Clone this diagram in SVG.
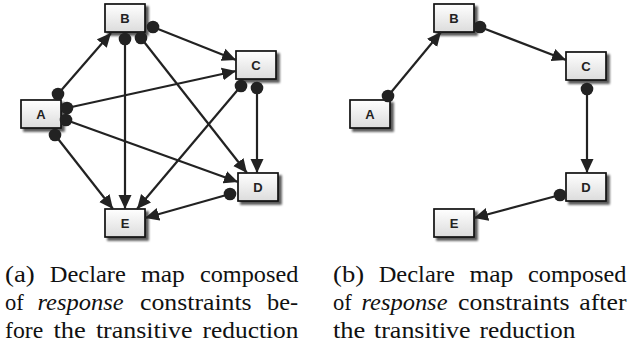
<svg xmlns="http://www.w3.org/2000/svg" width="629" height="349" viewBox="0 0 629 349">
<style>
.box{fill:url(#boxfill);stroke:#111;stroke-width:1.7;filter:url(#shadow)}
.edge{stroke:#222;stroke-width:2.2;fill:none;marker-start:url(#dot);marker-end:url(#arrow)}
</style>
<defs>
<linearGradient id="boxfill" x1="0" y1="0" x2="0" y2="1">
<stop offset="0" stop-color="#ffffff"/>
<stop offset="1" stop-color="#dcdcdc"/>
</linearGradient>
<filter id="shadow" x="-20%" y="-20%" width="150%" height="160%">
<feDropShadow dx="3" dy="3" stdDeviation="1.1" flood-color="#000" flood-opacity="0.65"/>
</filter>
<marker id="arrow" markerUnits="userSpaceOnUse" markerWidth="15" markerHeight="14" viewBox="0 0 15 14" refX="14" refY="7" orient="auto">
<path d="M0,0.5 L14,7 L0,13.5 z" fill="#222"/>
</marker>
<marker id="dot" markerUnits="userSpaceOnUse" markerWidth="14" markerHeight="14" viewBox="0 0 14 14" refX="7" refY="7">
<circle cx="7" cy="7" r="6.3" fill="#222"/>
</marker>
</defs>

<!-- (a) nodes -->
<g id="a-A"><rect class="box" x="21" y="100" width="40" height="28"/><text font-family="Liberation Sans" font-size="13" font-weight="bold" fill="#222" text-anchor="middle" x="41" y="118.5">A</text></g>
<g id="a-B"><rect class="box" x="105" y="4" width="40" height="28"/><text font-family="Liberation Sans" font-size="13" font-weight="bold" fill="#222" text-anchor="middle" x="125" y="22.5">B</text></g>
<g id="a-C"><rect class="box" x="236" y="51" width="40" height="28"/><text font-family="Liberation Sans" font-size="13" font-weight="bold" fill="#222" text-anchor="middle" x="256" y="69.5">C</text></g>
<g id="a-D"><rect class="box" x="238" y="173" width="40" height="28"/><text font-family="Liberation Sans" font-size="13" font-weight="bold" fill="#222" text-anchor="middle" x="258" y="191.5">D</text></g>
<g id="a-E"><rect class="box" x="105" y="209" width="40" height="28"/><text font-family="Liberation Sans" font-size="13" font-weight="bold" fill="#222" text-anchor="middle" x="125" y="227.5">E</text></g>

<!-- (b) nodes -->
<g id="b-A"><rect class="box" x="350" y="100" width="40" height="28"/><text font-family="Liberation Sans" font-size="13" font-weight="bold" fill="#222" text-anchor="middle" x="370" y="118.5">A</text></g>
<g id="b-B"><rect class="box" x="434" y="4" width="40" height="28"/><text font-family="Liberation Sans" font-size="13" font-weight="bold" fill="#222" text-anchor="middle" x="454" y="22.5">B</text></g>
<g id="b-C"><rect class="box" x="566" y="52" width="40" height="28"/><text font-family="Liberation Sans" font-size="13" font-weight="bold" fill="#222" text-anchor="middle" x="586" y="70.5">C</text></g>
<g id="b-D"><rect class="box" x="566" y="173" width="40" height="28"/><text font-family="Liberation Sans" font-size="13" font-weight="bold" fill="#222" text-anchor="middle" x="586" y="191.5">D</text></g>
<g id="b-E"><rect class="box" x="434" y="209" width="40" height="28"/><text font-family="Liberation Sans" font-size="13" font-weight="bold" fill="#222" text-anchor="middle" x="454" y="227.5">E</text></g>

<!-- connectors -->
<g id="connectors">
<line class="edge" x1="58" y1="94" x2="111" y2="33"/>
<line class="edge" x1="67" y1="108" x2="236" y2="71"/>
<line class="edge" x1="66" y1="120" x2="238" y2="182"/>
<line class="edge" x1="55" y1="135" x2="113" y2="209"/>
<line class="edge" x1="125" y1="39" x2="125" y2="209"/>
<line class="edge" x1="153" y1="27" x2="236" y2="60"/>
<line class="edge" x1="141" y1="38" x2="247" y2="173"/>
<line class="edge" x1="241" y1="86" x2="137" y2="209"/>
<line class="edge" x1="257" y1="88" x2="257" y2="173"/>
<line class="edge" x1="230" y1="194" x2="145" y2="218"/>

<line class="edge" x1="388" y1="96" x2="441" y2="32"/>
<line class="edge" x1="480" y1="27" x2="566" y2="60"/>
<line class="edge" x1="587" y1="89" x2="587" y2="173"/>
<line class="edge" x1="560" y1="195" x2="474" y2="218"/>
</g>

<!-- captions -->
<g id="caption-a">
<text font-family="Liberation Serif" font-size="24" fill="#111" transform="translate(5,282) scale(1.119,1)">(a)</text>
<text font-family="Liberation Serif" font-size="24" fill="#111" transform="translate(49.8,282) scale(1.02,1)">Declare</text>
<text font-family="Liberation Serif" font-size="24" fill="#111" transform="translate(140.9,282) scale(1.065,1)">map</text>
<text font-family="Liberation Serif" font-size="24" fill="#111" transform="translate(199.9,282) scale(1.012,1)">composed</text>
<text font-family="Liberation Serif" font-size="24" fill="#111" transform="translate(5,310) scale(0.94,1)">of</text>
<text font-family="Liberation Serif" font-size="24" fill="#111" font-style="italic" transform="translate(37.5,310) scale(1.02,1)">response</text>
<text font-family="Liberation Serif" font-size="24" fill="#111" transform="translate(140,310) scale(1.074,1)">constraints</text>
<text font-family="Liberation Serif" font-size="24" fill="#111" transform="translate(267,310) scale(1.015,1)">be-</text>
<text font-family="Liberation Serif" font-size="24" fill="#111" transform="translate(5,338) scale(0.99,1)">fore</text>
<text font-family="Liberation Serif" font-size="24" fill="#111" transform="translate(53.4,338) scale(1.105,1)">the</text>
<text font-family="Liberation Serif" font-size="24" fill="#111" transform="translate(95.9,338) scale(1.082,1)">transitive</text>
<text font-family="Liberation Serif" font-size="24" fill="#111" transform="translate(202.6,338) scale(1.058,1)">reduction</text>
</g>
<g id="caption-b">
<text font-family="Liberation Serif" font-size="24" fill="#111" transform="translate(333,282) scale(1.111,1)">(b)</text>
<text font-family="Liberation Serif" font-size="24" fill="#111" transform="translate(378.7,282) scale(1.02,1)">Declare</text>
<text font-family="Liberation Serif" font-size="24" fill="#111" transform="translate(469.4,282) scale(1.065,1)">map</text>
<text font-family="Liberation Serif" font-size="24" fill="#111" transform="translate(528,282) scale(1.012,1)">composed</text>
<text font-family="Liberation Serif" font-size="24" fill="#111" transform="translate(333,310) scale(0.94,1)">of</text>
<text font-family="Liberation Serif" font-size="24" fill="#111" font-style="italic" transform="translate(361.4,310) scale(1.02,1)">response</text>
<text font-family="Liberation Serif" font-size="24" fill="#111" transform="translate(458,310) scale(1.074,1)">constraints</text>
<text font-family="Liberation Serif" font-size="24" fill="#111" transform="translate(579.3,310) scale(1.075,1)">after</text>
<text font-family="Liberation Serif" font-size="24" fill="#111" transform="translate(333,338) scale(1.105,1)">the</text>
<text font-family="Liberation Serif" font-size="24" fill="#111" transform="translate(374,338) scale(1.082,1)">transitive</text>
<text font-family="Liberation Serif" font-size="24" fill="#111" transform="translate(479.5,338) scale(1.058,1)">reduction</text>
</g>
</svg>
